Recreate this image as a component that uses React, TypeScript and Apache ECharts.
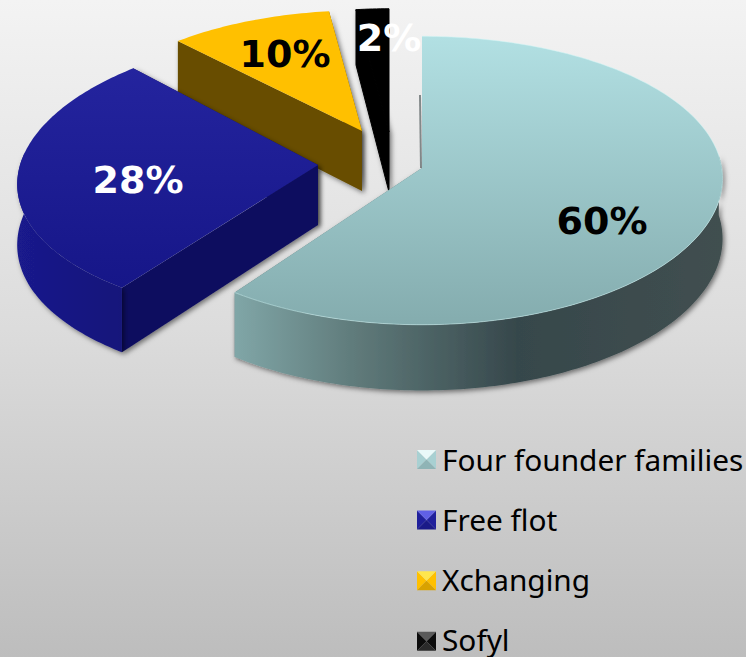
import React, { useEffect, useRef } from "react";
import * as echarts from "echarts";

const categories = ["Four founder families", "Free flot", "Xchanging", "Sofyl"];
const shares = [60, 28, 10, 2];
const shareLabels = ["60%", "28%", "10%", "2%"];

const W = 746;
const H = 657;
const RX = 298;
const RY = 141;
const PERSP = 0.087;
const DEPTH = 60;

const lin = (x: number, y: number, x2: number, y2: number, stops: [number, string][]) => ({
  type: "linear", x, y, x2, y2,
  colorStops: stops.map(([offset, color]) => ({ offset, color })),
});

const looks = [
  {
    ax: 422, ay: 168, sx: 1.006, sy: 1.015, tilt: -0.015,
    top: lin(0, 0, 0, 1, [[0, "#b2e0e3"], [1, "#84acae"]]),
    outer: lin(0, 0, 1, 0, [[0, "#80a6a7"], [0.25, "#5f7a7a"], [0.58, "#36474b"], [1, "#414f50"]]),
    wall: "#5f7a7a", rim: "rgba(205,245,245,0.5)", seam: "none",
    label: { x: 602, y: 221, color: "#000000" },
    bevel: ["#e9f9f9", "#a8d0d2", "#8fb4b6", "#a8d0d2"],
    legend: "#a9d3d6",
  },
  {
    ax: 318, ay: 165, sx: 1, sy: 1, tilt: 0.05,
    top: lin(0, 0, 0, 1, [[0, "#24249e"], [1, "#161688"]]),
    outer: lin(0, 0, 1, 0, [[0, "#1a1a8c"], [1, "#14147a"]]),
    wall: "#11115e", rim: "rgba(0,0,0,0)", seam: "none",
    label: { x: 138, y: 180, color: "#ffffff" },
    bevel: ["#6060e6", "#20209c", "#1a1a88", "#20209c"],
    legend: "#20209c",
  },
  {
    ax: 362, ay: 131, sx: 0.96, sy: 0.93, tilt: 0,
    top: lin(0, 0, 0, 1, [[0, "#ffc000"], [1, "#ffc000"]]),
    outer: lin(0, 0, 1, 0, [[0, "#684e00"], [1, "#684e00"]]),
    wall: "#684e00", rim: "rgba(0,0,0,0)", seam: "none",
    label: { x: 285, y: 54, color: "#000000" },
    bevel: ["#ffe64d", "#ffc000", "#d9a200", "#ffc000"],
    legend: "#ffc000",
  },
  {
    ax: 389, ay: 132, sx: 0.96, sy: 0.95, tilt: 0,
    top: lin(0, 0, 0, 1, [[0, "#000000"], [1, "#000000"]]),
    outer: lin(0, 0, 1, 0, [[0, "#000000"], [1, "#000000"]]),
    wall: "#000000", rim: "rgba(0,0,0,0)", seam: "#000000",
    label: { x: 389, y: 38, color: "#ffffff" },
    bevel: ["#5a5a5a", "#0c0c0c", "#2a2a2a", "#0c0c0c"],
    legend: "#111111",
  },
];

const SHADOW = {
  shadowBlur: 5, shadowColor: "rgba(0,0,0,0.5)", shadowOffsetX: 2, shadowOffsetY: 2,
};

function project(look: any, deg: number, r = 1, drop = 0): [number, number] {
  const t = (deg * Math.PI) / 180;
  const u = Math.sin(t) * r;
  const v = -Math.cos(t) * r;
  const s = 1 / (1 - PERSP * v);
  return [
    look.ax + RX * look.sx * u * s * (1 + look.tilt * v),
    look.ay + RY * look.sy * v * s + drop * s,
  ];
}

function arcPoints(look: any, from: number, to: number, drop = 0) {
  const pts: [number, number][] = [];
  const n = Math.max(2, Math.ceil(to - from));
  for (let i = 0; i <= n; i++) pts.push(project(look, from + ((to - from) * i) / n, 1, drop));
  return pts;
}

function buildOption() {
  const total = shares.reduce((a, b) => a + b, 0);
  let acc = 0;
  const ranges = shares.map((v) => {
    const from = (acc / total) * 360;
    acc += v;
    return [from, (acc / total) * 360];
  });

  const makeSeries = (i: number) => ({
    type: "custom",
    name: categories[i],
    coordinateSystem: "none",
    z: 5,
    silent: true,
    itemStyle: { color: looks[i].legend },
    data: [[shares[i]]],
    renderItem: () => {
      const look = looks[i];
      const [from, to] = ranges[i];
      const apex = project(look, 0, 0);
      const apexDrop = project(look, 0, 0, DEPTH);
      const edgeWall = (deg: number) => ({
        type: "polygon",
        shape: { points: [apex, project(look, deg), project(look, deg, 1, DEPTH), apexDrop] },
        style: { fill: look.wall, stroke: look.seam, lineWidth: 1, ...SHADOW },
      });
      const rimTop = arcPoints(look, from, to);
      const frontFrom = Math.max(from, 85);
      const frontTo = Math.min(to, 275);
      const outerWall =
        frontTo > frontFrom
          ? [{
              type: "polygon",
              shape: {
                points: [
                  ...arcPoints(look, frontFrom, frontTo),
                  ...arcPoints(look, frontFrom, frontTo, DEPTH).reverse(),
                ],
              },
              style: { fill: look.outer, ...SHADOW },
            }]
          : [];
      const backShade =
        i === 0
          ? [{
              type: "polyline",
              shape: { points: [[apex[0] - 1, apex[1]], [apex[0] - 2, apex[1] - 73]] },
              style: { fill: "none", stroke: "rgba(60,70,72,0.6)", lineWidth: 2 },
            }]
          : [];

      const ix = 417;
      const size = 19;
      const iy = 450 + i * 60.6;
      const cx = ix + size / 2;
      const cy = iy + size / 2;
      const tri = (a: number[], b: number[], fill: string) => ({
        type: "polygon",
        shape: { points: [a, b, [cx, cy]] },
        style: { fill },
      });
      const TL = [ix, iy], TR = [ix + size, iy], BR = [ix + size, iy + size], BL = [ix, iy + size];

      return {
        type: "group",
        children: [
          ...backShade,
          edgeWall(to),
          edgeWall(from),
          ...outerWall,
          { type: "polygon", shape: { points: [apex, ...rimTop] }, style: { fill: look.top, stroke: look.seam, lineWidth: 1 } },
          { type: "polyline", shape: { points: rimTop }, style: { fill: "none", stroke: look.rim, lineWidth: 1 } },
          {
            type: "text",
            style: {
              text: shareLabels[i], x: look.label.x, y: look.label.y, fill: look.label.color,
              fontSize: 38, fontWeight: "bold", fontFamily: "DejaVu Sans",
              align: "center", verticalAlign: "middle",
            },
          },
          tri(TL, BL, look.bevel[3]),
          tri(TR, BR, look.bevel[1]),
          tri(BL, BR, look.bevel[2]),
          tri(TL, TR, look.bevel[0]),
        ],
      };
    },
  });

  return {
    animation: false,
    backgroundColor: lin(0, 0, 0, 1, [[0, "#f3f3f3"], [0.5, "#dcdcdc"], [1, "#bdbdbd"]]),
    legend: {
      orient: "vertical",
      left: 418,
      top: 444,
      height: 212,
      padding: 0,
      data: categories,
      selectedMode: false,
      icon: "rect",
      itemWidth: 19,
      itemHeight: 19,
      itemGap: 30.3,
      itemStyle: { opacity: 0 },
      textStyle: { fontFamily: "Noto Sans", fontSize: 29.8, lineHeight: 30, color: "#000000" },
    },
    series: [3, 2, 1, 0].map(makeSeries),
  };
}

export default function App() {
  const ref = useRef<HTMLDivElement>(null);
  useEffect(() => {
    const chart = echarts.init(ref.current!, undefined, { renderer: "svg" });
    chart.setOption(buildOption() as any);
    return () => chart.dispose();
  }, []);
  return <div ref={ref} style={{ position: "absolute", left: 0, top: 0, width: W, height: H }} />;
}
